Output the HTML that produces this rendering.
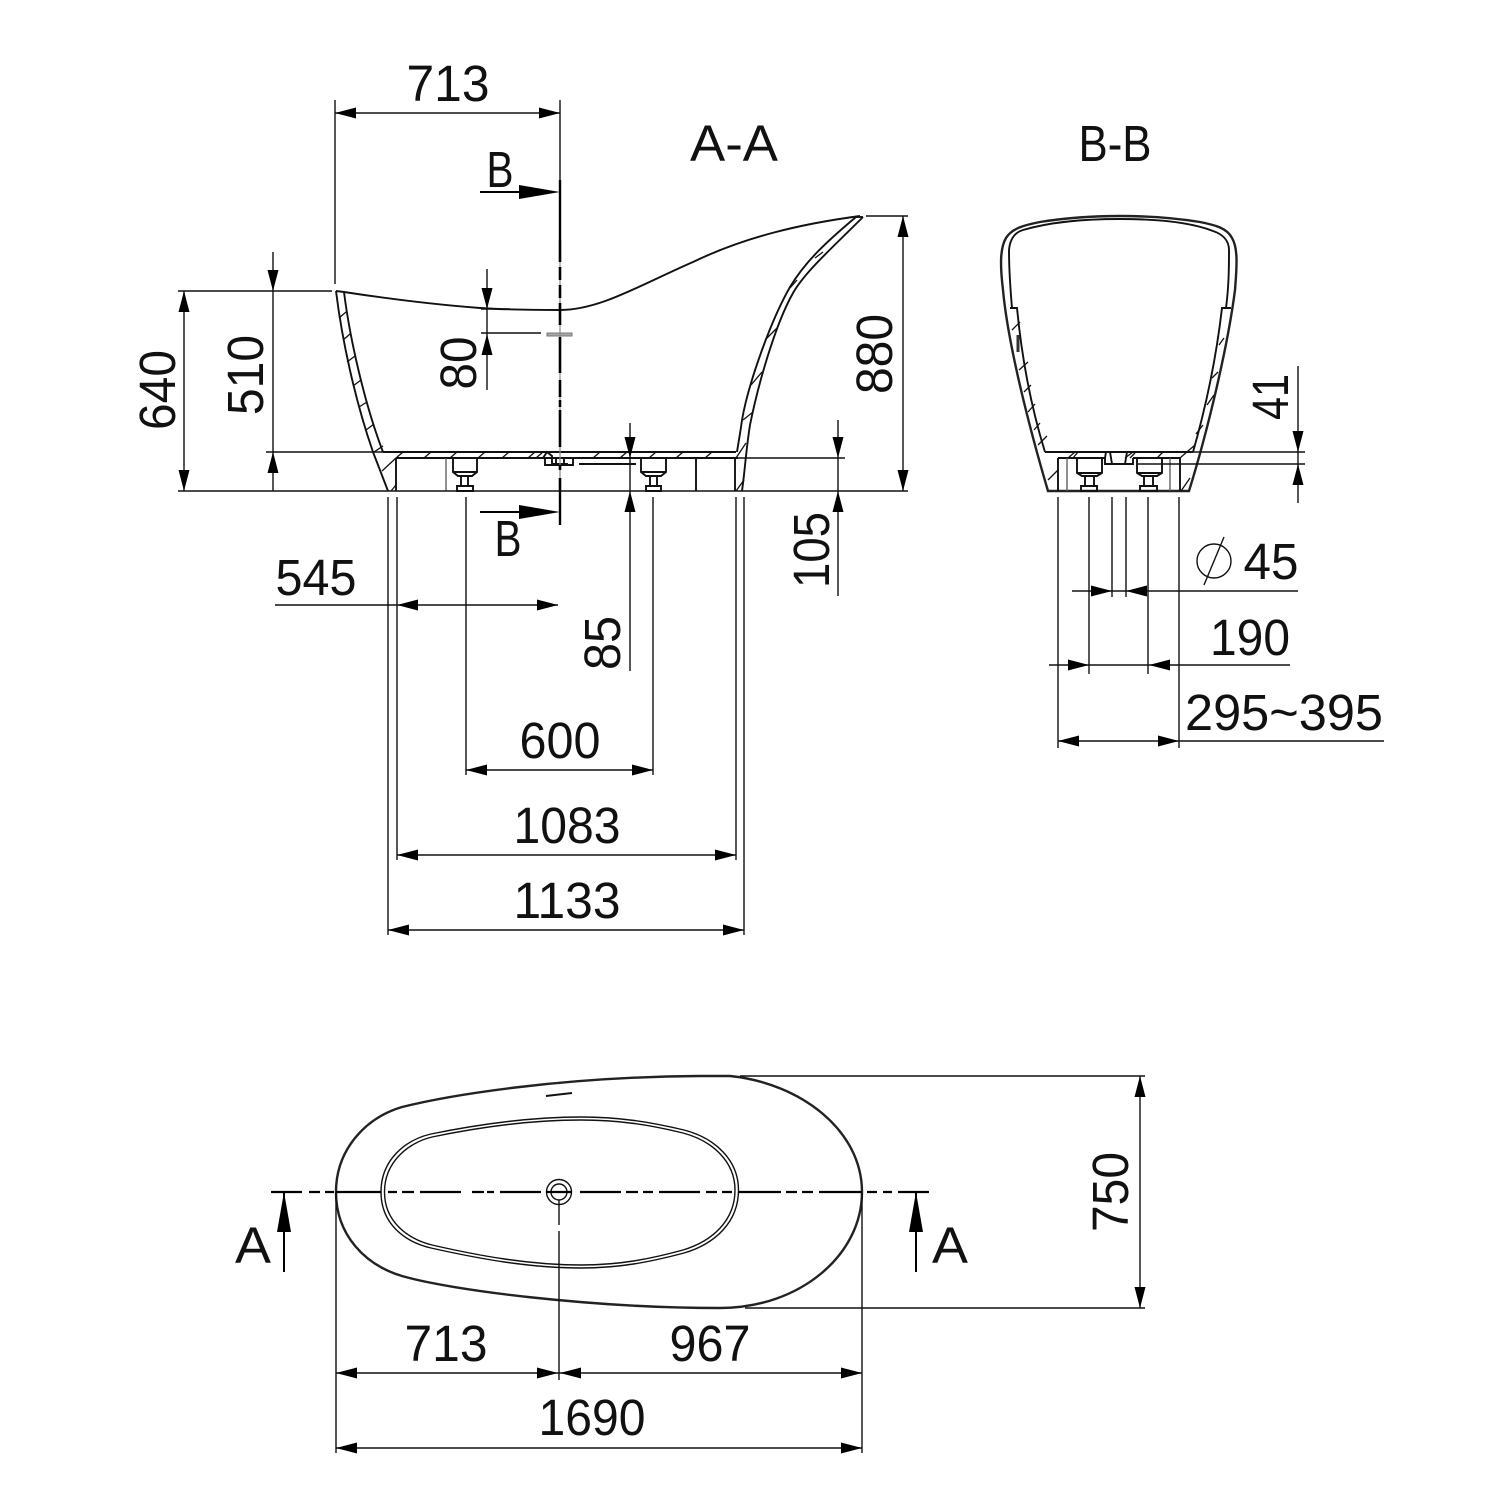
<!DOCTYPE html>
<html><head><meta charset="utf-8"><style>
html,body{margin:0;padding:0;background:#fff}
svg{display:block}
text{font-family:"Liberation Sans",sans-serif;font-size:51px;fill:#111;text-anchor:middle}
.th{stroke:#111;stroke-width:1.4;fill:none}
.g{stroke:#555;stroke-width:1.3;fill:none}
.m{stroke:#111;stroke-width:1.9;fill:none}
.o{stroke:#222;stroke-width:2.4;fill:none}
.h{stroke:#111;stroke-width:1.3;fill:none}
</style></head><body>
<svg width="1500" height="1500" viewBox="0 0 1500 1500" xmlns="http://www.w3.org/2000/svg">
<defs>
<path id="r" d="M0 0L-21 -5.500L-21 5.500Z" fill="#000"/>
<path id="l" d="M0 0L21 -5.500L21 5.500Z" fill="#000"/>
<path id="u" d="M0 0L-5.500 21L5.500 21Z" fill="#000"/>
<path id="d" d="M0 0L-5.500 -21L5.500 -21Z" fill="#000"/>
</defs>

<!-- ============ SECTION A-A ============ -->
<!-- rim -->
<path class="m" d="M336 291 L344 292 C390 299 440 305 480 308 C510 310 540 310 560 310 C600 310 640 285 693 262 C745 237 800 224 860 216"/>
<!-- left wall & foot -->
<path class="m" d="M336 291 C342 340 355 400 373 452 L388 491"/>
<path class="m" d="M344 292 C350 340 365 405 383 452"/>
<!-- right wall -->
<path class="m" d="M863 217 C830 250 805 272 793 293 C775 325 758 385 750 425 C746 450 745 470 742 491"/>
<path class="m" d="M856 217 C825 243 805 262 790 287 C770 322 748 385 742 420 C740 435 738 445 737 452"/>
<path class="m" d="M856 217 L863 217"/>
<!-- floor -->
<path class="m" d="M383 452 H736"/>
<path class="m" d="M396 458 H738"/>
<path class="m" d="M396 458 V491"/>
<path class="g" d="M446 458 V491"/>
<path class="m" d="M696 458 V491"/>
<path class="m" d="M735 458 V491"/>
<!-- wall hatch -->
<path class="h" d="M339 318L346 312M343 340L350 334M347 362L355 356M353 386L361 380M359 407L367 402M366 430L374 424M374 452L383 446"/>
<path class="h" d="M382 471L396 458M391 491L396 485M396 458L403 452"/>
<path class="h" d="M424 458L431 452M450 458L457 452M478 458L485 452M502 458L509 452M528 458L535 452M536 458L543 452M593 458L600 452M620 458L627 452M649 458L656 452M676 458L683 452M705 458L712 452"/>
<path class="h" d="M736 458L746 443M736 491L744 480M743 420L753 412M751 385L762 372M765 340L777 328M790 288L797 280M815 258L823 252"/>
<!-- left foot -->
<path class="m" d="M453 458V472L458 476H472L477 472V458M453 472H477M461 476V486M468 476V486M457 486H473V491H457Z"/>
<!-- right foot -->
<path class="m" d="M641 458V472L646 476H661L666 472V458M641 472H666M650 476V486M657 476V486M646 486H661V491H646Z"/>
<!-- drain -->
<path class="m" d="M543 458L547 452L552 456V464H568M545 458V465H573V458M552 458H567M552 452H567M556 458V465M564 458V465"/>
<path class="m" d="M579 464H636"/>
<!-- faucet hole -->
<rect x="547" y="333" width="25" height="3" fill="#aaa" stroke="#777" stroke-width="1"/>
<!-- center line -->
<path d="M560 180V525" stroke="#888" stroke-width="1.200"/>
<path d="M560 240V262M560 267V280M560 285V298M560 303V325M560 337V373M560 380V397M560 400V407M560 410V447M560 465V470M560 478V490" stroke="#000" stroke-width="2.600" fill="none"/>
<path d="M560 180V240M560 490V525" stroke="#000" stroke-width="2.400"/>

<!-- dim lines & ext lines A-A -->
<path class="th" d="M335 100V284M560 100V180M335 113H560"/>
<path class="th" d="M178 291H332M178 491H908M184 291V491M273 252V491M266 452H384"/>
<path class="th" d="M487 269V390M481 309H510M481 333H541"/>
<path class="th" d="M866 216H908M903 216V491M738 458H845M838 420V596M630 423V671"/>
<path class="th" d="M275 605H558M388 497V935M397 497V860M466 497V775M653 497V775M736 497V860M744 497V935"/>
<path class="th" d="M466 770H653M397 855H736M388 930H744"/>
<use href="#l" x="335" y="113"/><use href="#r" x="560" y="113"/>
<use href="#u" x="184" y="291"/><use href="#d" x="184" y="491"/>
<use href="#d" x="273" y="291"/><use href="#u" x="273" y="452"/>
<use href="#d" x="487" y="309"/><use href="#u" x="487" y="334"/>
<use href="#u" x="903" y="216"/><use href="#d" x="903" y="491"/>
<use href="#d" x="838" y="458"/><use href="#u" x="838" y="491"/>
<use href="#d" x="630" y="458"/><use href="#u" x="630" y="491"/>
<use href="#l" x="397" y="605"/><use href="#r" x="558" y="605"/>
<use href="#l" x="466" y="770"/><use href="#r" x="653" y="770"/>
<use href="#l" x="397" y="855"/><use href="#r" x="736" y="855"/>
<use href="#l" x="388" y="930"/><use href="#r" x="744" y="930"/>
<!-- section arrows B -->
<path d="M480 192H525M480 512H525" stroke="#000" stroke-width="2"/>
<path d="M560 192L519 185V199Z M560 512L519 505V519Z" fill="#000"/>

<!-- labels A-A -->
<text x="448" y="101" textLength="83" lengthAdjust="spacingAndGlyphs">713</text>
<text x="734" y="161" textLength="88" lengthAdjust="spacingAndGlyphs">A-A</text>
<text x="500" y="187" textLength="27" lengthAdjust="spacingAndGlyphs">B</text>
<text x="508" y="556" textLength="27" lengthAdjust="spacingAndGlyphs">B</text>
<text transform="translate(175 390) rotate(-90)" textLength="80" lengthAdjust="spacingAndGlyphs">640</text>
<text transform="translate(263 375) rotate(-90)" textLength="80" lengthAdjust="spacingAndGlyphs">510</text>
<text transform="translate(476 363) rotate(-90)" textLength="53" lengthAdjust="spacingAndGlyphs">80</text>
<text transform="translate(892 354) rotate(-90)" textLength="80" lengthAdjust="spacingAndGlyphs">880</text>
<text transform="translate(829 550) rotate(-90)" textLength="76" lengthAdjust="spacingAndGlyphs">105</text>
<text transform="translate(620 643) rotate(-90)" textLength="54" lengthAdjust="spacingAndGlyphs">85</text>
<text x="316" y="595" textLength="81" lengthAdjust="spacingAndGlyphs">545</text>
<text x="560" y="758" textLength="81" lengthAdjust="spacingAndGlyphs">600</text>
<text x="567" y="843" textLength="107" lengthAdjust="spacingAndGlyphs">1083</text>
<text x="567" y="918" textLength="107" lengthAdjust="spacingAndGlyphs">1133</text>

<!-- ============ SECTION B-B ============ -->
<path class="o" d="M1048 491 C1030 430 1008 345 1003 290 C1000 265 1000 248 1006 238 C1012 228 1025 225 1040 222 C1090 214 1150 214 1200 222 C1215 225 1227 228 1232 238 C1238 248 1237 265 1235 290 C1228 345 1208 430 1189 491 Z"/>
<path class="m" d="M1012 308 C1010 285 1009 265 1009 250 C1010 238 1016 232 1023 230 C1050 222 1085 219 1120 219 C1155 219 1190 222 1213 231 C1222 234 1229 240 1229 250 C1229 265 1229 285 1226 308"/>
<path class="m" d="M1010 308H1017 C1022 360 1032 410 1045 452"/>
<path class="m" d="M1231 308H1222 C1216 360 1205 410 1193 452"/>
<path class="m" d="M1045 452H1193"/>
<path class="m" d="M1058 458H1105M1133 458H1180M1058 458V491M1180 458V491"/>
<path class="g" d="M1067 458V491M1170 458V491"/>
<path class="m" d="M1105 458V464H1133V458M1105 458L1106 452M1110 452L1112 464M1127 452L1125 464"/>
<path class="h" d="M1068 458L1075 452M1073 458L1078 452M1157 458L1163 452M1125 458L1133 452M1130 458L1135 453"/>
<path class="h" d="M1048 480L1058 470M1181 491L1190 478M1180 458L1195 445"/>
<path class="h" d="M1012 330L1020 322M1019 370L1028 362M1024 392L1031 385M1028 412L1035 404M1034 430L1040 423M1038 445L1047 436M1203 425L1196 434M1207 405L1214 395M1212 378L1218 372M1219 345L1224 338"/>
<path d="M1018 335L1018 352" stroke="#333" stroke-width="3"/>
<!-- feet -->
<path class="m" d="M1077 458V473L1082 476H1097L1102 473V458M1077 473H1102M1085 476V486M1094 476V486M1081 486H1097V491H1081Z"/>
<path class="m" d="M1137 458V473L1142 476H1157L1162 473V458M1137 473H1162M1144 476V486M1153 476V486M1140 486H1157V491H1140Z"/>
<!-- dims B-B -->
<path class="th" d="M1193 452H1305M1138 464H1305M1298 366V503"/>
<path class="th" d="M1058 497V748M1089 497V674M1112 497V597M1126 497V597M1148 497V674M1179 497V748"/>
<path class="th" d="M1072 591H1298M1049 665H1290M1058 741H1384"/>
<use href="#d" x="1298" y="452"/><use href="#u" x="1298" y="464"/>
<use href="#r" x="1112" y="591"/><use href="#l" x="1126" y="591"/>
<use href="#r" x="1089" y="665"/><use href="#l" x="1149" y="665"/>
<use href="#l" x="1058" y="741"/><use href="#r" x="1179" y="741"/>
<circle cx="1214" cy="561" r="17" class="th"/>
<path class="th" d="M1224 537L1204 585"/>
<text x="1115" y="161" textLength="73" lengthAdjust="spacingAndGlyphs">B-B</text>
<text transform="translate(1288 397) rotate(-90)" textLength="46" lengthAdjust="spacingAndGlyphs">41</text>
<text x="1271" y="579" textLength="55" lengthAdjust="spacingAndGlyphs">45</text>
<text x="1250" y="655" textLength="80" lengthAdjust="spacingAndGlyphs">190</text>
<text x="1284" y="730" textLength="198" lengthAdjust="spacingAndGlyphs">295~395</text>

<!-- ============ PLAN VIEW ============ -->
<path class="o" d="M336 1192 C336 1150 365 1118 402 1107 C450 1095 560 1077 699 1076 L730 1076 C800 1083 862 1130 862 1192 C862 1255 800 1308 720 1308 C590 1308 450 1290 402 1276 C365 1265 336 1235 336 1192 Z"/>
<path class="th" d="M381 1192 C381 1160 405 1140 431 1134 C480 1124 530 1117 581 1117 C620 1117 650 1122 684 1130 C715 1138 738.500 1160 738.500 1190 C738.500 1222 715 1244 684 1253 C650 1262 620 1268 581 1268 C530 1268 480 1259 431 1248 C405 1242 381 1224 381 1192 Z"/>
<path class="th" d="M384.500 1192 C384.500 1162 408 1143 432 1137 C480 1127 530 1120 581 1120 C620 1120 650 1125 683 1133 C713 1141 735 1162 735 1190 C735 1220 713 1241 683 1250 C650 1259 620 1265 581 1265 C530 1265 480 1256 432 1245 C408 1239 384.500 1222 384.500 1192 Z"/>
<path class="m" d="M546 1096L572 1093"/>
<circle cx="559" cy="1192" r="12.500" class="th"/>
<circle cx="559" cy="1192" r="8" class="th"/>
<path d="M271 1192H302M309 1192H320M325 1192H334M336 1192H381M388 1192H397M402 1192H414M420 1192H461M472 1192H484M487 1192H494M500 1192H541M546 1192H572M580 1192H621M626 1192H638M643 1192H653M659 1192H700M706 1192H717M722 1192H732M738 1192H781M786 1192H797M802 1192H813M819 1192H862M867 1192H877M883 1192H892M898 1192H929" stroke="#000" stroke-width="2.200" fill="none"/>
<path class="th" d="M740 1076H1145M745 1308H1145M1140 1076V1308"/>
<path class="th" d="M336 1192V1453M862 1192V1453M559 1200V1225M559 1231V1380M336 1373H862M336 1448H862"/>
<use href="#u" x="1140" y="1076"/><use href="#d" x="1140" y="1308"/>
<use href="#l" x="336" y="1373"/><use href="#r" x="558" y="1373"/>
<use href="#l" x="560" y="1373"/><use href="#r" x="862" y="1373"/>
<use href="#l" x="336" y="1448"/><use href="#r" x="862" y="1448"/>
<path d="M284 1192V1272M916 1192V1272" stroke="#000" stroke-width="2"/>
<path d="M284 1192L277 1232H291Z M916 1192L909 1232H923Z" fill="#000"/>
<text x="253" y="1263" textLength="36" lengthAdjust="spacingAndGlyphs">A</text>
<text x="950" y="1263" textLength="36" lengthAdjust="spacingAndGlyphs">A</text>
<text transform="translate(1128 1192) rotate(-90)" textLength="80" lengthAdjust="spacingAndGlyphs">750</text>
<text x="446" y="1361" textLength="83" lengthAdjust="spacingAndGlyphs">713</text>
<text x="710" y="1361" textLength="81" lengthAdjust="spacingAndGlyphs">967</text>
<text x="592" y="1435" textLength="107" lengthAdjust="spacingAndGlyphs">1690</text>
</svg>
</body></html>
